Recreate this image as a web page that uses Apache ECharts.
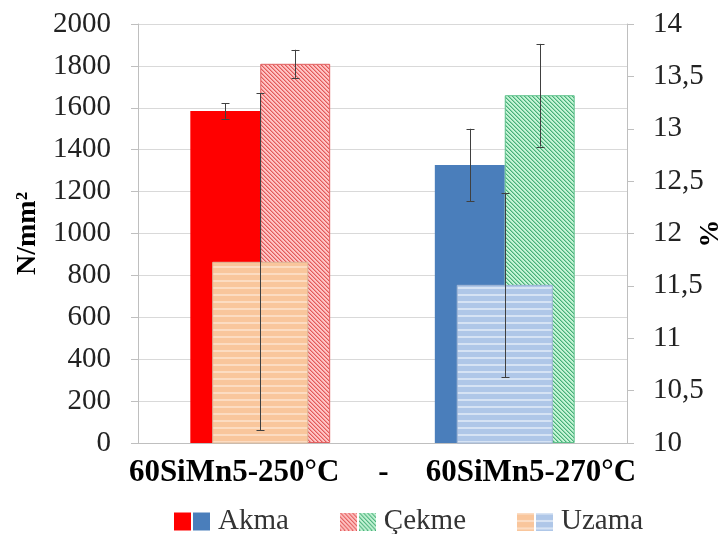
<!DOCTYPE html>
<html><head><meta charset="utf-8">
<script src="https://cdn.jsdelivr.net/npm/echarts@6/dist/echarts.min.js"></script>
<style>html,body{margin:0;padding:0;background:#fff}#c{width:721px;height:534px}</style>
</head><body><div id="c"></div>
<script>
// ---- data ----
const categories = ['60SiMn5-250°C', '60SiMn5-270°C'];
const seriesNames = ['Akma', 'Çekme', 'Uzama'];
const akma = [1585, 1327];
const akmaErr = [37, 173];
const cekme = [1810, 1660];
const cekmeErr = [67, 245];
const uzama = [11.73, 11.51];
const uzamaErr = [1.61, 0.88];
const leftMin = 0, leftMax = 2000, leftStep = 200;
const rightMin = 10, rightMax = 14, rightStep = 0.5;

const FONT = "'Liberation Serif','Times New Roman',serif";

function hatch(bg, line, mid) {
  const n = 4, c = document.createElement('canvas');
  c.width = n; c.height = n;
  const ctx = c.getContext('2d');
  for (let y = 0; y < n; y++) for (let x = 0; x < n; x++) {
    const k = ((x - y) % n + n) % n;
    ctx.fillStyle = k === 0 ? line : (k === 1 ? mid : bg);
    ctx.fillRect(x, y, 1, 1);
  }
  return c;
}
function stripes(bg, line) {
  const c = document.createElement('canvas');
  c.width = 4; c.height = 7;
  const ctx = c.getContext('2d');
  ctx.fillStyle = bg; ctx.fillRect(0, 0, 4, 7);
  ctx.fillStyle = line; ctx.fillRect(0, 0, 4, 2);
  return c;
}
function swatch(tile) {
  const c = document.createElement('canvas');
  c.width = 17; c.height = 17;
  const ctx = c.getContext('2d');
  ctx.fillStyle = ctx.createPattern(tile, 'repeat');
  ctx.fillRect(0, 0, 17, 17);
  return c;
}
const redHatch = hatch('#FFC4C4', '#E25A5A', '#F29494');
const greenHatch = hatch('#C6F4D6', '#48AE7A', '#8CD8AC');
const peachStripe = stripes('#F9C69C', '#FCDCC2');
const blueStripe = stripes('#AFC7E8', '#D6E3F4');

const akmaColors = ['#FF0000', '#4A7EBB'];
const cekmeColors = [{image: redHatch, repeat: 'repeat'}, {image: greenHatch, repeat: 'repeat'}];
const uzamaColors = [{image: peachStripe, repeat: 'repeat'}, {image: blueStripe, repeat: 'repeat'}];

const BW = 0.286; // bar width fraction
function errSeries(vals, errs, off, xi, yi, z) {
  return {
    type: 'custom', xAxisIndex: xi, yAxisIndex: yi, z: z, silent: true,
    data: vals.map((v, i) => [i, v - errs[i], v + errs[i]]),
    encode: {x: 0, y: [1, 2]},
    renderItem(params, api) {
      const band = api.size([1, 0])[0];
      const lo = api.coord([api.value(0), api.value(1)]);
      const hi = api.coord([api.value(0), api.value(2)]);
      const x = Math.round(lo[0] + off * band) + 0.5;
      const cap = 4;
      const style = {stroke: '#404040', lineWidth: 1};
      return {type: 'group', children: [
        {type: 'line', shape: {x1: x, y1: hi[1], x2: x, y2: lo[1]}, style},
        {type: 'line', shape: {x1: x - cap, y1: Math.round(hi[1]) + 0.5, x2: x + cap, y2: Math.round(hi[1]) + 0.5}, style},
        {type: 'line', shape: {x1: x - cap, y1: Math.round(lo[1]) + 0.5, x2: x + cap, y2: Math.round(lo[1]) + 0.5}, style}
      ]};
    }
  };
}

const box = (bg) => ({width: 17, height: 18, backgroundColor: bg, verticalAlign: 'middle'});
const chart = echarts.init(document.getElementById('c'), null, {renderer: 'canvas'});
chart.setOption({
  animation: false,
  backgroundColor: '#fff',
  grid: {left: 138, right: 94, top: 24, bottom: 91, containLabel: false, outerBoundsMode: 'none'},
  legend: {
    data: seriesNames, left: 164, top: 502, itemGap: 46,
    itemWidth: 0, itemHeight: 0, icon: 'rect',
    itemStyle: {opacity: 0},
    formatter: (n) => {
      const k = n === 'Akma' ? 'a' : (n === 'Uzama' ? 'u' : 'c');
      return '{' + k + '1|}{s|}{' + k + '2|}{t|' + n + '}';
    },
    textStyle: {
      fontFamily: FONT, fontSize: 29, color: '#333',
      rich: {
        a1: box('#FF0000'), a2: box('#4A7EBB'),
        c1: box({image: swatch(redHatch)}), c2: box({image: swatch(greenHatch)}),
        u1: box({image: swatch(peachStripe)}), u2: box({image: swatch(blueStripe)}),
        s: {width: 2, height: 17},
        t: {fontFamily: FONT, fontSize: 29, color: '#333', padding: [0, 0, 0, 8], verticalAlign: 'middle', lineHeight: 32}
      }
    }
  },
  xAxis: [{
    type: 'category', data: categories,
    axisLine: {lineStyle: {color: '#BFBFBF'}}, axisTick: {show: false}, axisLabel: {show: false},
    name: '{a|60SiMn5-250°C}{d|-}{a|60SiMn5-270°C}', nameLocation: 'middle', nameGap: 14,
    nameMoveOverlap: false,
    nameTextStyle: {
      rich: {
        a: {fontFamily: FONT, fontSize: 31, fontWeight: 'bold', color: '#000'},
        d: {fontFamily: FONT, fontSize: 31, fontWeight: 'bold', color: '#000', padding: [0, 37, 0, 39]}
      }
    }
  }, {
    type: 'category', data: categories, show: false
  }],
  yAxis: [{
    type: 'value', min: leftMin, max: leftMax, interval: leftStep,
    axisLine: {show: true, lineStyle: {color: '#BFBFBF'}},
    axisTick: {show: true, length: 7, lineStyle: {color: '#BFBFBF'}},
    splitLine: {lineStyle: {color: '#D9D9D9'}},
    axisLabel: {fontFamily: FONT, fontSize: 29, color: '#222', margin: 27, formatter: (v) => String(v)},
    name: 'N/mm²', nameLocation: 'middle', nameRotate: 90, nameGap: 96, nameMoveOverlap: false,
    nameTextStyle: {fontFamily: FONT, fontSize: 28, fontWeight: 'bold', color: '#000'}
  }, {
    type: 'value', position: 'right', min: rightMin, max: rightMax, interval: rightStep,
    axisLine: {show: true, lineStyle: {color: '#BFBFBF'}},
    axisTick: {show: true, length: 7, lineStyle: {color: '#BFBFBF'}},
    splitLine: {show: false},
    axisLabel: {fontFamily: FONT, fontSize: 29, color: '#222', margin: 26,
      formatter: (v) => String(v).replace('.', ',')},
    name: '%', nameLocation: 'middle', nameRotate: 90, nameGap: 70, nameMoveOverlap: false,
    nameTextStyle: {fontFamily: FONT, fontSize: 28, fontWeight: 'bold', color: '#000'}
  }],
  series: [
    {name: 'Akma', type: 'bar', xAxisIndex: 0, yAxisIndex: 0, barWidth: (BW * 100) + '%', barGap: '0%', z: 2,
     data: akma.map((v, i) => ({value: v, itemStyle: {color: akmaColors[i]}}))},
    {name: 'Çekme', type: 'bar', xAxisIndex: 0, yAxisIndex: 0, barWidth: (BW * 100) + '%', barGap: '0%', z: 2,
     data: cekme.map((v, i) => ({value: v, itemStyle: {color: cekmeColors[i], borderColor: i ? '#5CC08A' : '#E06060', borderWidth: 1}}))},
    errSeries(akma, akmaErr, -BW / 2, 0, 0, 3),
    errSeries(cekme, cekmeErr, BW / 2, 0, 0, 3),
    {name: 'Uzama', type: 'bar', xAxisIndex: 1, yAxisIndex: 1, barWidth: '39.3%', z: 4,
     data: uzama.map((v, i) => ({value: v, itemStyle: {color: uzamaColors[i], borderColor: i ? '#9DB3D3' : '#D9B89A', borderWidth: 1}}))},
    errSeries(uzama, uzamaErr, 0, 1, 1, 5)
  ]
});
</script></body></html>
